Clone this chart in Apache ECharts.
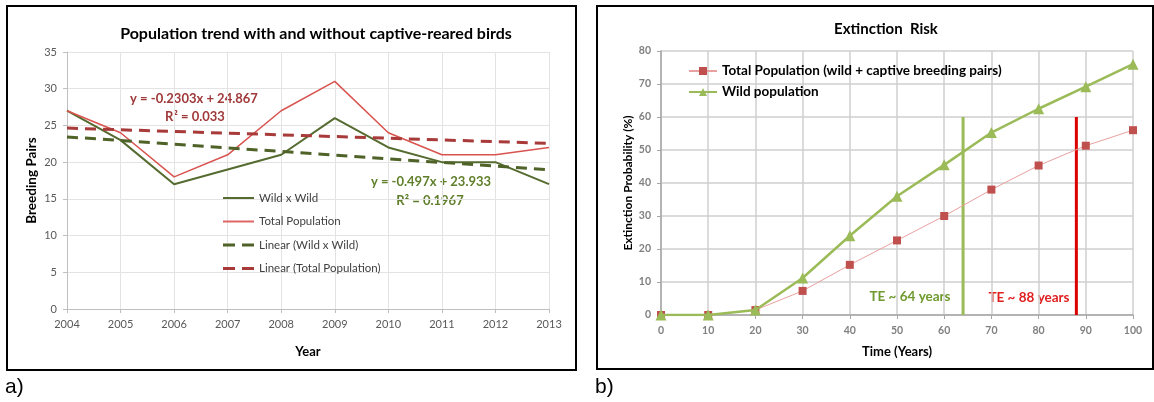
<!DOCTYPE html>
<html>
<head>
<meta charset="utf-8">
<script src="https://cdn.jsdelivr.net/npm/echarts@6/dist/echarts.min.js"></script>
<style>
html,body{margin:0;padding:0;background:#fff;}
#c{width:1154px;height:402px;}
</style>
</head>
<body>
<div id="c"></div>
<script>
// ---- Chart a) data ----
var years = [2004, 2005, 2006, 2007, 2008, 2009, 2010, 2011, 2012, 2013];
var wildXWild = [27, 23, 17, 19, 21, 26, 22, 20, 20, 17];
var totalPopulation = [27, 24, 18, 21, 27, 31, 24, 21, 21, 22];
var trendYears = [2004, 2013];
var trendWild = [23.44, 18.96];
var trendTotal = [24.64, 22.56];
var eqTotal = ['y = -0.2303x + 24.867', 'R² = 0.033'];
var eqWild = ['y = -0.497x + 23.933', 'R² = 0.1967'];

// ---- Chart b) data ----
var timeYears = [0, 10, 20, 30, 40, 50, 60, 70, 80, 90, 100];
var riskTotal = [0, 0, 1.5, 7.3, 15.2, 22.6, 30, 38, 45.3, 51.3, 56];
var riskWild = [0, 0, 1.5, 11.2, 24, 36, 45.5, 55.3, 62.5, 69.2, 76];
var teWild = 64, teTotal = 88, teTop = 60;
var teLabels = ['TE ~ 64 years', 'TE ~ 88 years'];

function pairs(xs, ys) { return xs.map(function (x, i) { return [x, ys[i]]; }); }

var F = 'Lato, "Open Sans", sans-serif';
var chart = echarts.init(document.getElementById('c'), null, {renderer: 'canvas'});

var solidIcon = 'path://M0,0h31v2h-31z';
var dashIcon = 'path://M0,0h12v3h-12z M19,0h12v3h-12z';

var option = {
  backgroundColor: '#fff',
  animation: false,
  textStyle: {fontFamily: F},
  title: [
    {text: 'Population trend with and without captive-reared birds', left: 311, top: 21, textAlign: 'center',
     textStyle: {fontFamily: F, fontSize: 16, fontWeight: 'bold', color: '#000'}},
    {text: 'Extinction  Risk', left: 881, top: 17, textAlign: 'center',
     textStyle: {fontFamily: F, fontSize: 15, fontWeight: 'bold', color: '#000'}}
  ],
  legend: [
    {orient: 'vertical', left: 218, top: 186, itemWidth: 31, itemHeight: 3, itemGap: 9.5,
     data: [
       {name: 'Wild x Wild', icon: solidIcon},
       {name: 'Total Population', icon: solidIcon},
       {name: 'Linear (Wild x Wild)', icon: dashIcon},
       {name: 'Linear (Total Population)', icon: dashIcon}
     ],
     textStyle: {fontFamily: F, fontSize: 11.5, color: '#404040', lineHeight: 14}},
    {orient: 'vertical', left: 683, top: 59, itemWidth: 28, itemHeight: 10, itemGap: 7,
     data: ['Total Population (wild + captive breeding pairs)', 'Wild population'],
     textStyle: {fontFamily: F, fontSize: 13.5, fontWeight: 'bold', color: '#000'}}
  ],
  grid: [
    {left: 67, right: 605, top: 52, bottom: 93},
    {left: 661, right: 21, top: 51, bottom: 87}
  ],
  xAxis: [
    {gridIndex: 0, type: 'value', min: 2004, max: 2013, interval: 1,
     name: 'Year', nameLocation: 'middle', nameGap: 36,
     nameTextStyle: {fontFamily: F, fontSize: 13, fontWeight: 'bold', color: '#000'},
     axisLine: {lineStyle: {color: '#bfbfbf'}}, axisTick: {show: true, length: 4, lineStyle: {color: '#bfbfbf'}},
     axisLabel: {fontFamily: F, fontSize: 11, color: '#595959', margin: 10, formatter: function (v) { return String(v); }},
     splitLine: {show: true, lineStyle: {color: '#e3e3e3'}}},
    {gridIndex: 1, type: 'value', min: 0, max: 100, interval: 10,
     name: 'Time (Years)', nameLocation: 'middle', nameGap: 30,
     nameTextStyle: {fontFamily: F, fontSize: 13, fontWeight: 'bold', color: '#000'},
     axisLine: {lineStyle: {color: '#a6a6a6', width: 1.5}}, axisTick: {show: true, length: 4, lineStyle: {color: '#a6a6a6'}},
     axisLabel: {fontFamily: F, fontSize: 10.5, fontWeight: 'bold', color: '#808080', margin: 10},
     splitLine: {show: true, lineStyle: {color: '#cfcfcf', width: 1.5}}}
  ],
  yAxis: [
    {gridIndex: 0, type: 'value', min: 0, max: 35, interval: 5,
     name: 'Breeding Pairs', nameLocation: 'middle', nameGap: 28, nameRotate: 90,
     nameTextStyle: {fontFamily: F, fontSize: 13.5, fontWeight: 'bold', color: '#000'},
     axisLine: {show: true, lineStyle: {color: '#bfbfbf'}}, axisTick: {show: true, length: 4, lineStyle: {color: '#bfbfbf'}},
     axisLabel: {fontFamily: F, fontSize: 11, color: '#595959', margin: 10},
     splitLine: {show: true, lineStyle: {color: '#e3e3e3'}}},
    {gridIndex: 1, type: 'value', min: 0, max: 80, interval: 10,
     name: 'Extinction Probability (%)', nameLocation: 'middle', nameGap: 27, nameRotate: 90,
     nameTextStyle: {fontFamily: F, fontSize: 12, fontWeight: 'bold', color: '#000'},
     axisLine: {show: true, lineStyle: {color: '#a6a6a6', width: 1.5}}, axisTick: {show: true, length: 4, lineStyle: {color: '#a6a6a6'}},
     axisLabel: {fontFamily: F, fontSize: 10.5, fontWeight: 'bold', color: '#808080', margin: 10},
     splitLine: {show: true, lineStyle: {color: '#cfcfcf', width: 1.5}}}
  ],
  series: [
    {name: 'Wild x Wild', type: 'line', xAxisIndex: 0, yAxisIndex: 0, symbol: 'none',
     data: pairs(years, wildXWild), lineStyle: {color: '#556b2f', width: 2}, itemStyle: {color: '#556b2f'}},
    {name: 'Total Population', type: 'line', xAxisIndex: 0, yAxisIndex: 0, symbol: 'none',
     data: pairs(years, totalPopulation), lineStyle: {color: '#d9534f', width: 1.5}, itemStyle: {color: '#e06666'}},
    {name: 'Linear (Wild x Wild)', type: 'line', xAxisIndex: 0, yAxisIndex: 0, symbol: 'none',
     data: pairs(trendYears, trendWild), lineStyle: {color: '#4f6228', width: 3, type: [11, 7]}, itemStyle: {color: '#4f6228'}},
    {name: 'Linear (Total Population)', type: 'line', xAxisIndex: 0, yAxisIndex: 0, symbol: 'none',
     data: pairs(trendYears, trendTotal), lineStyle: {color: '#a83a3a', width: 3, type: [11, 7]}, itemStyle: {color: '#a83a3a'}},

    {name: 'TE wild', type: 'line', xAxisIndex: 1, yAxisIndex: 1, symbol: 'none',
     data: [[teWild, 0], [teWild, teTop]], lineStyle: {color: '#9bbb59', width: 3}, z: 1},
    {name: 'TE total', type: 'line', xAxisIndex: 1, yAxisIndex: 1, symbol: 'none',
     data: [[teTotal, 0], [teTotal, teTop]], lineStyle: {color: '#dd0000', width: 3}, z: 1},
    {name: 'Total Population (wild + captive breeding pairs)', type: 'line', xAxisIndex: 1, yAxisIndex: 1,
     symbol: 'rect', symbolSize: 8, data: pairs(timeYears, riskTotal),
     lineStyle: {color: '#e8a0a0', width: 1}, itemStyle: {color: '#c0504d'}, z: 3},
    {name: 'Wild population', type: 'line', xAxisIndex: 1, yAxisIndex: 1,
     symbol: 'triangle', symbolSize: 11, data: pairs(timeYears, riskWild),
     lineStyle: {color: '#9bbb59', width: 2.5}, itemStyle: {color: '#9bbb59'}, z: 4}
  ],
  graphic: [
    {type: 'rect', shape: {x: 7, y: 6, width: 569, height: 364}, style: {fill: null, stroke: '#000', lineWidth: 2}, silent: true},
    {type: 'rect', shape: {x: 597, y: 6, width: 556, height: 363}, style: {fill: null, stroke: '#000', lineWidth: 2}, silent: true},
    {type: 'text', x: 5, y: 377, style: {text: 'a)', font: '21px "Liberation Sans", Arial, sans-serif', fill: '#000'}},
    {type: 'text', x: 595, y: 377, style: {text: 'b)', font: '21px "Liberation Sans", Arial, sans-serif', fill: '#000'}},
    {type: 'text', x: 194, y: 99, style: {text: eqTotal[0], font: 'bold 13px Lato, sans-serif', fill: '#a0393a', align: 'center', verticalAlign: 'middle'}},
    {type: 'text', x: 195, y: 117, style: {text: eqTotal[1], font: 'bold 13px Lato, sans-serif', fill: '#a0393a', align: 'center', verticalAlign: 'middle'}},
    {type: 'text', x: 431, y: 182, style: {text: eqWild[0], font: 'bold 13px Lato, sans-serif', fill: '#5f7f2a', align: 'center', verticalAlign: 'middle'}},
    {type: 'text', x: 430, y: 201, style: {text: eqWild[1], font: 'bold 13px Lato, sans-serif', fill: '#5f7f2a', align: 'center', verticalAlign: 'middle'}},
    {type: 'text', x: 910, y: 297, style: {text: teLabels[0], font: 'bold 13.5px Lato, sans-serif', fill: '#6e9a2e', align: 'center', verticalAlign: 'middle'}},
    {type: 'text', x: 1029, y: 298, style: {text: teLabels[1], font: 'bold 13.5px Lato, sans-serif', fill: '#e02020', align: 'center', verticalAlign: 'middle'}}
  ]
};
chart.setOption(option);
</script>
</body>
</html>
